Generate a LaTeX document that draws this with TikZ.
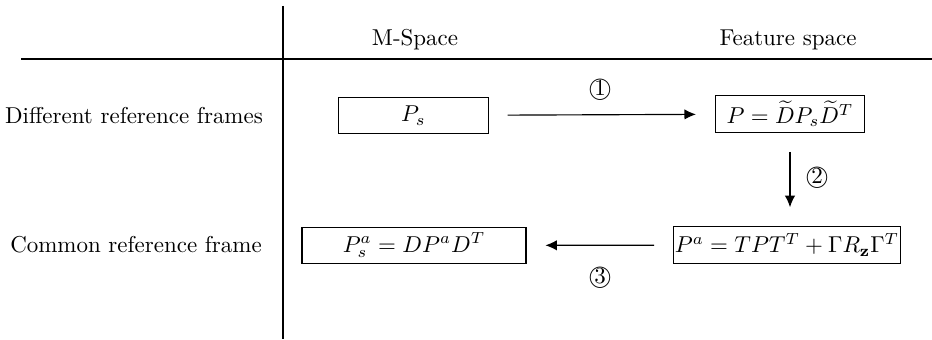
\documentclass[tikz,border=0pt]{standalone}
\usepackage{amsmath}
\usepackage{tikz}
\usetikzlibrary{positioning, arrows.meta, calc}

\tikzset{
  formbox/.style={draw, line width=0.5pt, minimum height=16pt, inner sep=0.6pt},
  flowarrow/.style={-{Latex[length=5pt, width=4.5pt]}, line width=0.5pt,
                    shorten <=8.2pt, shorten >=8.2pt},
  steplabel/.style={inner sep=0pt}
}

\begin{document}
\begin{tikzpicture}[x=0.0153cm, y=-0.0153cm]
  \useasboundingbox (0,0) rectangle (932,340);
  % table rules
  \draw[line width=0.5pt] (283,6) -- (283,339);
  \draw[line width=0.5pt] (21,59) -- (932,59);
  % headers
  \node (hdmspace) at (415,40) {M-Space};
  \node (hdfeature) at (788,40) {Feature space};
  % row labels
  \node (rowdiff) at (134,116) {Different reference frames};
  \node (rowcommon) at (136,245) {Common reference frame};
  % the four matrices
  \node[formbox, minimum width=65pt] (ps) at (413.5,115.5) {$P_s$};
  \node[formbox, minimum width=65pt] (p) at (790,114) {$P=\widetilde{D}P_s\widetilde{D}^T$};
  \node[formbox, minimum width=97.5pt] (psa) at (414,245.5) {$P^a_s=DP^aD^T$};
  \node[formbox, minimum width=97.5pt] (pa) at (787,245) {$P^a=TPT^T+\Gamma R_{\mathbf{z}}\Gamma^T$};
  % steps
  \draw[flowarrow] (ps) -- (p);
  \draw[flowarrow] (p.south) -- (p.south |- pa.north);
  \draw[flowarrow] (pa) -- (psa);
  \node[steplabel] (stepone) at (600,90) {\textcircled{1}};
  \node[steplabel] (steptwo) at (817,178) {\textcircled{2}};
  \node[steplabel] (stepthree) at (600,278) {\textcircled{3}};
\end{tikzpicture}
\end{document}
